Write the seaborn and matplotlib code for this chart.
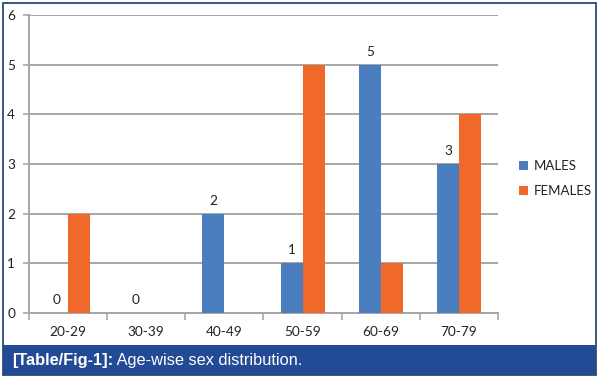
import matplotlib
matplotlib.use("Agg")
import matplotlib.pyplot as plt
import seaborn as sns
import pandas as pd
from matplotlib.patches import Rectangle

categories = ["20-29", "30-39", "40-49", "50-59", "60-69", "70-79"]
males = [0, 0, 2, 1, 5, 3]
females = [2, 0, 0, 5, 1, 4]
series_names = ["MALES", "FEMALES"]
y_ticks = [0, 1, 2, 3, 4, 5, 6]
caption_bold = "[Table/Fig-1]:"
caption_text = " Age-wise sex distribution."

df = pd.DataFrame({
    "age": categories * 2,
    "count": males + females,
    "sex": [series_names[0]] * len(categories) + [series_names[1]] * len(categories),
})

sns.set_style("white")
plt.rcParams["font.family"] = ["Lato", "DejaVu Sans"]

fig = plt.figure(figsize=(6.0, 3.78), dpi=100)
ax = fig.add_axes([29 / 600, 1 - 313 / 378, (498 - 29) / 600, (313 - 15) / 378])

blue = "#4A7EBF"
orange = "#F0692A"
sns.barplot(data=df, x="age", y="count", hue="sex", order=categories,
            hue_order=series_names, palette=[blue, orange], width=0.565,
            saturation=1, ax=ax, legend=True, zorder=3, linewidth=0,
            edgecolor="none")

grid_c = "#A6A6A6"
ax.set_ylim(0, 6)
ax.set_xlim(-0.5, len(categories) - 0.5)
ax.set_yticks(y_ticks)
ax.yaxis.grid(True, color=grid_c, linewidth=1.4, zorder=0)
ax.set_axisbelow(True)
for s in ["top", "right"]:
    ax.spines[s].set_visible(False)
for s in ["left", "bottom"]:
    ax.spines[s].set_color(grid_c)
    ax.spines[s].set_linewidth(1.4)
ax.set_xlabel("")
ax.set_ylabel("")
ax.tick_params(axis="y", left=True, length=4, width=1.2, color=grid_c,
               labelsize=9.8, labelcolor="#222222", pad=6)
ax.tick_params(axis="x", which="major", bottom=False, length=0,
               labelsize=9.8, labelcolor="#222222", pad=9)
ax.set_xticks([i - 0.5 for i in range(len(categories) + 1)], minor=True)
ax.tick_params(axis="x", which="minor", bottom=True, length=5, width=1.2, color=grid_c)

ax.bar_label(ax.containers[0], labels=[str(v) for v in males], padding=5,
             fontsize=9.8, color="#222222")

leg = ax.legend(loc="center left", bbox_to_anchor=(1.02, 0.45), frameon=False,
                fontsize=9.5, handlelength=0.7, handleheight=0.7,
                handletextpad=0.4, labelspacing=1.0)
for t in leg.get_texts():
    t.set_color("#222222")

# caption band and border
fig.patches.append(Rectangle((3 / 600, 3 / 378), 593 / 600, 30 / 378,
                             transform=fig.transFigure, facecolor="#234A94",
                             edgecolor="none", zorder=0))
fig.patches.append(Rectangle((3 / 600, 3 / 378), 593 / 600, 372 / 378,
                             transform=fig.transFigure, facecolor="none",
                             edgecolor="#2B4A7C", linewidth=1.3, zorder=1))
t1 = fig.text(12 / 600, 1 - 361 / 378, caption_bold, color="white",
              fontsize=11.8, fontweight="bold", family=["Liberation Sans", "DejaVu Sans"],
              va="center", ha="left")
fig.canvas.draw()
bb = t1.get_window_extent()
fig.text(bb.x1 / fig.bbox.width, 1 - 361 / 378, caption_text, color="white",
         fontsize=11.8, family=["Liberation Sans", "DejaVu Sans"], va="center", ha="left")

fig.savefig("out.png", dpi=100)
